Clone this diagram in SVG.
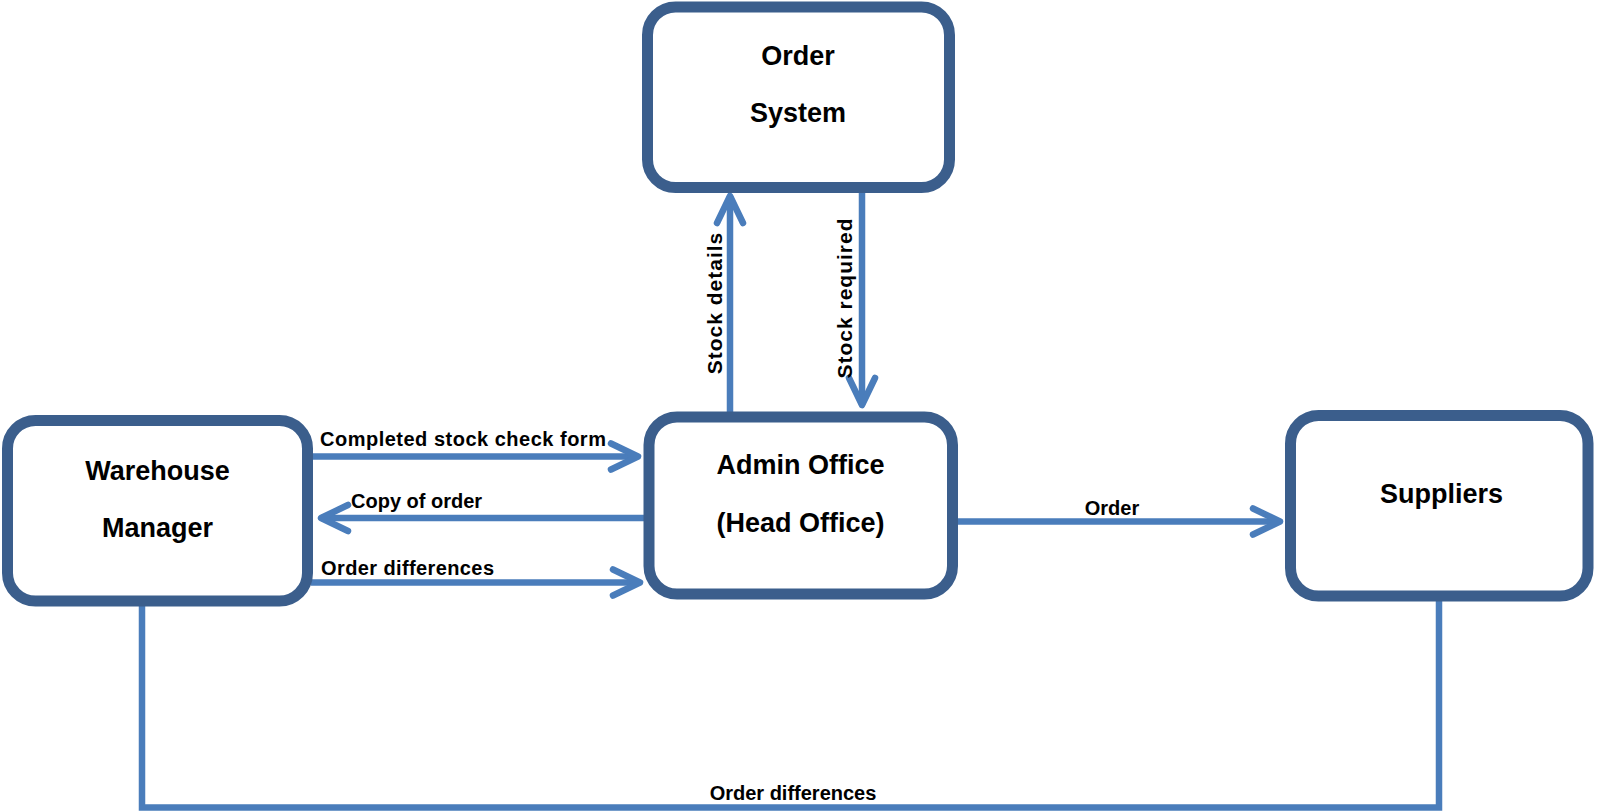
<svg xmlns="http://www.w3.org/2000/svg" width="1597" height="811" viewBox="0 0 1597 811">
<style>
.box{fill:#fff;stroke:#3B5E8C;stroke-width:11}
.nt{font-family:"Liberation Sans",Arial,sans-serif;font-weight:bold;font-size:27px;fill:#000;text-anchor:middle}
.lt{font-family:"Liberation Sans",Arial,sans-serif;font-weight:bold;font-size:20px;fill:#000}
.vt{font-family:"Liberation Sans",Arial,sans-serif;font-weight:bold;font-size:21px;letter-spacing:1px;fill:#000;text-anchor:middle}
.con{fill:none;stroke:#4A7DBB;stroke-width:6.5}
</style>
<defs>
<marker id="ah" markerUnits="userSpaceOnUse" viewBox="-34 -20 40 40" refX="0" refY="0" markerWidth="40" markerHeight="40" orient="auto" overflow="visible">
<path d="M-27,-13 L0,0 L-27,13" fill="none" stroke="#4A7DBB" stroke-width="6.5" stroke-linecap="round" stroke-linejoin="round"/>
</marker>
</defs>
<rect width="1597" height="811" fill="#fff"/>
<g id="connectors">
<path class="con" d="M311,456.5 H638" marker-end="url(#ah)"/>
<path class="con" d="M644,518 H321" marker-end="url(#ah)"/>
<path class="con" d="M311,582.5 H640" marker-end="url(#ah)"/>
<path class="con" d="M957,521.5 H1280" marker-end="url(#ah)"/>
<path class="con" d="M730,412 V196" marker-end="url(#ah)"/>
<path class="con" d="M862,192 V405" marker-end="url(#ah)"/>
<path class="con" d="M142,604 V807.5 H1439 V600"/>
<text class="lt" x="320" y="446" letter-spacing="0.5">Completed stock check form</text>
<text class="lt" x="351" y="508">Copy of order</text>
<text class="lt" x="321" y="575" textLength="173">Order differences</text>
<text class="lt" x="1112" y="515" text-anchor="middle">Order</text>
<text class="lt" x="793" y="800" text-anchor="middle">Order differences</text>
<text class="vt" transform="translate(722,303) rotate(-90)">Stock details</text>
<text class="vt" transform="translate(852,298) rotate(-90)">Stock required</text>
</g>
<g id="order-system">
<rect class="box" x="647.5" y="7" width="302" height="180.5" rx="28"/>
<text class="nt" x="798" y="65">Order</text>
<text class="nt" x="798" y="122">System</text>
</g>
<g id="warehouse-manager">
<rect class="box" x="7.5" y="420.5" width="300" height="180.5" rx="28"/>
<text class="nt" x="157.5" y="480">Warehouse</text>
<text class="nt" x="157.5" y="537">Manager</text>
</g>
<g id="admin-office">
<rect class="box" x="649" y="417" width="303.5" height="177" rx="28"/>
<text class="nt" x="800.5" y="474">Admin Office</text>
<text class="nt" x="800.5" y="532">(Head Office)</text>
</g>
<g id="suppliers">
<rect class="box" x="1290.5" y="415.5" width="297.5" height="180.5" rx="28"/>
<text class="nt" x="1441.5" y="503">Suppliers</text>
</g>
</svg>
